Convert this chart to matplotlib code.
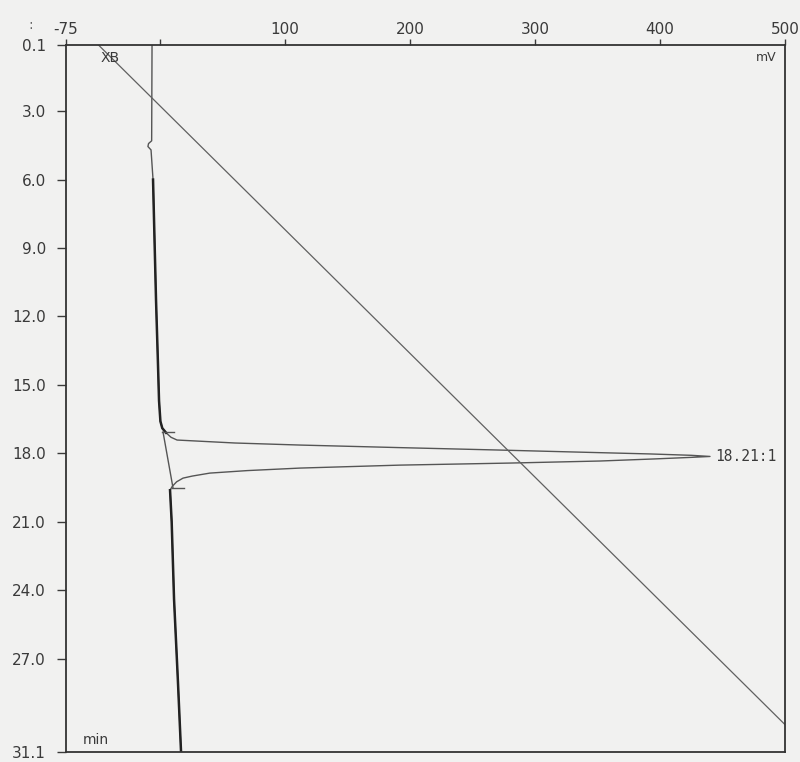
import matplotlib
matplotlib.use("Agg")
import matplotlib.pyplot as plt
import numpy as np

# Chromatogram trace (time in min, signal in mV)
time_min = [0.1, 4.30, 4.42, 4.55, 4.70, 6.0, 8.0, 11.3, 14.0, 15.7, 16.6, 16.9,
            17.1, 17.3, 17.42, 17.55, 17.64, 17.75, 17.86, 17.95, 18.03, 18.09,
            18.14, 18.18, 18.25, 18.34, 18.43, 18.52, 18.65, 18.76, 18.87, 19.0,
            19.09, 19.25, 19.45, 19.62, 21.0, 24.4, 28.0, 31.1]
signal_mv = [-6.2, -6.5, -9.0, -9.5, -7.0, -5.4, -4.5, -3.0, -1.5, -0.6, 0.5, 2.0,
             5.0, 9.0, 13.8, 60, 112, 190, 272, 335, 392, 425,
             440, 425, 395, 352, 280, 192, 112, 70, 40, 26,
             18.6, 13.5, 10.0, 8.2, 9.5, 11.4, 14.5, 17.0]

# Ramp line starting at the "XB" mark
ramp_time = [0.1, 29.9]
ramp_mv = [-49, 500]

# Integration baseline and peak start / end markers
base_time = [17.07, 19.53]
base_mv = [2.6, 10.6]
peak_label = "18.21:1"
peak_time = 18.14
peak_mv = 440

y_ticks = [0.1, 3.0, 6.0, 9.0, 12.0, 15.0, 18.0, 21.0, 24.0, 27.0, 31.1]
x_ticks = [-75, 0, 100, 200, 300, 400, 500]
x_labels = ["-75", "", "100", "200", "300", "400", "500"]

ink = "#3a3a3a"
paper = "#f1f1f0"

fig = plt.figure(figsize=(8, 7.62), dpi=100, facecolor=paper)
ax = fig.add_axes([0.0825, 0.0131, 0.8988, 0.9278], facecolor=paper)

t = np.array(time_min)
s = np.array(signal_mv)

# thin pen for the whole trace, heavier where the pen pressed harder
ax.plot(s, t, color="#555555", lw=1.0, solid_joinstyle="round")
heavy_a = (t >= 6.0) & (t <= 17.1)
heavy_b = t >= 19.62
ax.plot(s[heavy_a], t[heavy_a], color="#222222", lw=1.8)
ax.plot(s[heavy_b], t[heavy_b], color="#222222", lw=1.8)

ax.plot(ramp_mv, ramp_time, color="#606060", lw=0.9)
ax.plot(base_mv, base_time, color="#555555", lw=1.0)
for bt, bm in zip(base_time, base_mv):
    ax.plot([bm - 1, bm + 9], [bt, bt], color="#555555", lw=1.0)

ax.text(peak_mv + 4, peak_time, peak_label, color=ink, fontsize=10.5,
        va="center", ha="left", family="DejaVu Sans Mono")

ax.text(ramp_mv[0] + 2, 0.35, "XB", color=ink, fontsize=10, va="top", ha="left")
ax.text(493, 0.35, "mV", color=ink, fontsize=9, va="top", ha="right")
ax.text(-62, 30.9, "min", color=ink, fontsize=10, va="bottom", ha="left")
fig.text(0.036, 0.962, ":", color="#666666", fontsize=10)

ax.set_xlim(-75, 500)
ax.set_ylim(31.1, 0.1)
ax.xaxis.tick_top()
ax.set_xticks(x_ticks)
ax.set_xticklabels(x_labels)
ax.set_yticks(y_ticks)
ax.set_yticklabels([f"{v:.1f}" for v in y_ticks])
ax.tick_params(axis="x", direction="out", length=4.5, width=1.0, pad=1.5,
               colors=ink, labelsize=11)
ax.tick_params(axis="y", direction="out", length=6.5, width=1.0, pad=8,
               colors=ink, labelsize=11)
for sp in ax.spines.values():
    sp.set_color("#333333")
    sp.set_linewidth(1.3)

fig.savefig("out.png", dpi=100, facecolor=paper)
